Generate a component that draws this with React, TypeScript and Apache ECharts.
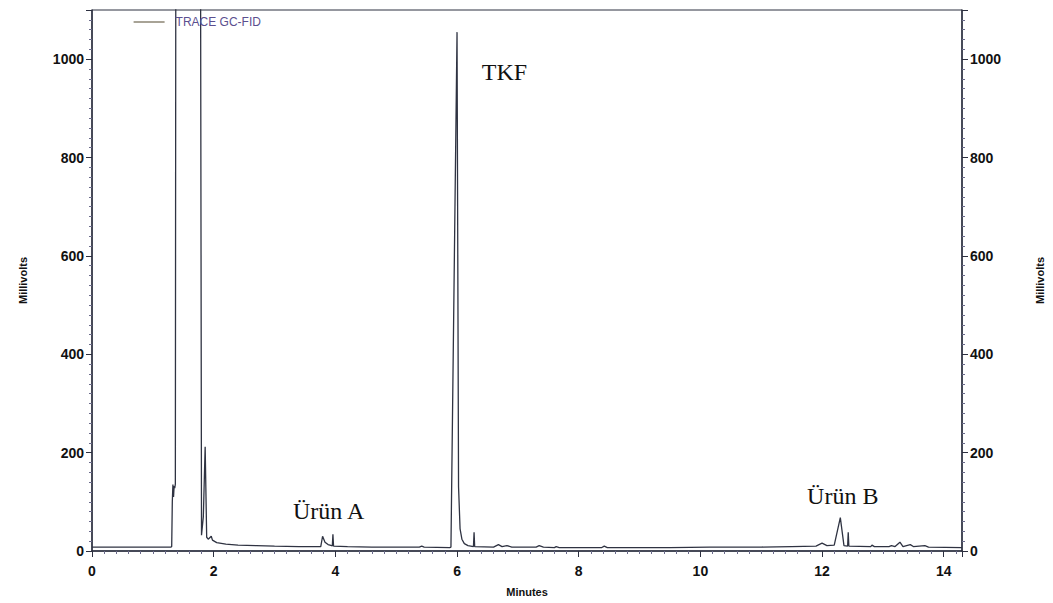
import React, { useEffect, useRef } from "react";
import * as echarts from "echarts";

// Retention time (min) and detector signal (mV) of the TRACE GC-FID run
const minutes: number[] = [
  0, 0.5, 1.0, 1.3, 1.31, 1.32, 1.33, 1.34, 1.35, 1.36, 1.37, 1.39, 1.76, 1.8,
  1.83, 1.86, 1.885, 1.91, 1.96, 1.98, 2.05, 2.2, 2.4, 2.7, 3.0, 3.4, 3.76,
  3.79, 3.83, 3.88, 3.94, 3.95, 3.96, 3.97, 4.2, 4.6, 5.0, 5.38, 5.42, 5.46,
  5.88, 5.9, 6.0, 6.025, 6.05, 6.08, 6.12, 6.18, 6.27, 6.28, 6.29, 6.6, 6.68,
  6.74, 6.82, 6.9, 7.3, 7.35, 7.42, 7.6, 7.63, 7.68, 8.38, 8.42, 8.47, 9.2,
  9.5, 10.15, 10.6, 11.0, 11.5, 11.9, 12.0, 12.08, 12.2, 12.3, 12.36, 12.42,
  12.43, 12.44, 12.8, 12.82, 12.86, 13.1, 13.14, 13.2, 13.28, 13.33, 13.45,
  13.5, 13.69, 13.75, 14.3,
];
const millivolts: number[] = [
  8, 8, 8, 8, 9, 100, 135, 110, 132, 128, 136, 3000, 3000, 32,
  70, 212, 28, 24, 30, 22, 17, 14, 12, 11, 10, 9, 9,
  30, 18, 13, 11, 10, 34, 10, 9, 8, 8, 8, 10, 8,
  7, 8, 1055, 130, 45, 24, 15, 11, 9, 38, 9, 8, 13,
  9, 11, 8, 8, 11, 8, 7, 9, 7, 7, 10, 7, 7,
  7, 8, 8, 8, 9, 10, 16, 11, 12, 68, 11, 10,
  38, 10, 9, 12, 9, 9, 11, 9, 18, 9, 13,
  9, 11, 8, 7,
];

// Peak annotations: name, retention time and signal where the label sits
const peakNames: string[] = ["Ürün A", "TKF", "Ürün B"];
const peakLabelX: number[] = [3.89, 6.78, 12.34];
const peakLabelY: number[] = [81, 974, 111];

const yTicks = { min: 0, max: 1100, interval: 200 };
const xTicks = { min: 0, max: 14.3, interval: 2 };

const axisColor = "#2d3040";
const traceColor = "#2f3342";
const sansFont = "'Liberation Sans', Arial, Helvetica, sans-serif";
const serifFont = "'Liberation Serif', 'Times New Roman', serif";

export default function App() {
  const ref = useRef<HTMLDivElement>(null);

  useEffect(() => {
    if (!ref.current) return;
    const chart = echarts.init(ref.current, undefined, { renderer: "svg" });

    const tickLabel = {
      fontFamily: sansFont,
      fontWeight: "bold" as const,
      fontSize: 14,
      color: "#111",
      formatter: (v: number) => String(v),
    };
    const axisName = {
      fontFamily: sansFont,
      fontWeight: "bold" as const,
      fontSize: 11,
      color: "#111",
    };

    const yAxisBase = (position: "left" | "right") => ({
      type: "value" as const,
      position,
      min: yTicks.min,
      max: yTicks.max,
      interval: yTicks.interval,
      name: "Millivolts",
      nameLocation: "middle" as const,
      nameRotate: 90,
      nameGap: position === "left" ? 64 : 72,
      nameTextStyle: axisName,
      axisLine: { show: true, lineStyle: { color: axisColor, width: 1.5 } },
      axisTick: { show: true, length: 6, lineStyle: { color: axisColor } },
      minorTick: { show: true, splitNumber: 10, length: 3, lineStyle: { color: "#6a6a8a" } },
      splitLine: { show: false },
      axisLabel: { ...tickLabel, margin: 8, showMaxLabel: false },
    });

    chart.setOption({
      animation: false,
      grid: {
        left: 92,
        right: 85,
        top: 10,
        bottom: 52,
        show: true,
        borderColor: axisColor,
        borderWidth: 1,
        backgroundColor: "transparent",
      },
      legend: {
        data: ["TRACE GC-FID"],
        left: 128,
        top: 11,
        itemWidth: 31,
        itemHeight: 12,
        itemStyle: { color: "rgba(0,0,0,0)", borderWidth: 0 },
        lineStyle: { color: "#6e6650", width: 1.2 },
        textStyle: {
          fontFamily: sansFont,
          fontSize: 12,
          color: "#5b4f8f",
          padding: [0, 0, 0, 6],
        },
      },
      xAxis: {
        type: "value",
        min: xTicks.min,
        max: xTicks.max,
        interval: xTicks.interval,
        name: "Minutes",
        nameLocation: "middle",
        nameGap: 35,
        nameTextStyle: axisName,
        axisLine: { show: true, onZero: false, lineStyle: { color: axisColor, width: 1.5 } },
        axisTick: { show: true, length: 6, lineStyle: { color: axisColor } },
        minorTick: { show: true, splitNumber: 10, length: 3, lineStyle: { color: "#6a6a8a" } },
        splitLine: { show: false },
        axisLabel: { ...tickLabel, margin: 13, showMaxLabel: false },
      },
      yAxis: [yAxisBase("left"), yAxisBase("right")],
      series: [
        {
          name: "TRACE GC-FID",
          type: "line",
          yAxisIndex: 0,
          data: minutes.map((m, i) => [m, millivolts[i]]),
          showSymbol: false,
          symbol: "none",
          clip: true,
          lineStyle: { color: traceColor, width: 1.3 },
          itemStyle: { color: traceColor },
          markPoint: {
            symbol: "circle",
            symbolSize: 1,
            itemStyle: { color: "rgba(0,0,0,0)" },
            label: {
              show: true,
              position: "inside",
              formatter: "{b}",
              fontFamily: serifFont,
              fontSize: 24,
              color: "#111",
            },
            data: peakNames.map((n, i) => ({
              name: n,
              coord: [peakLabelX[i], peakLabelY[i]],
            })),
          },
        },
      ],
    });

    return () => chart.dispose();
  }, []);

  return (
    <div
      ref={ref}
      style={{
        position: "fixed",
        left: 0,
        top: 0,
        width: 1053,
        height: 603,
        background: "#fff",
      }}
    />
  );
}
